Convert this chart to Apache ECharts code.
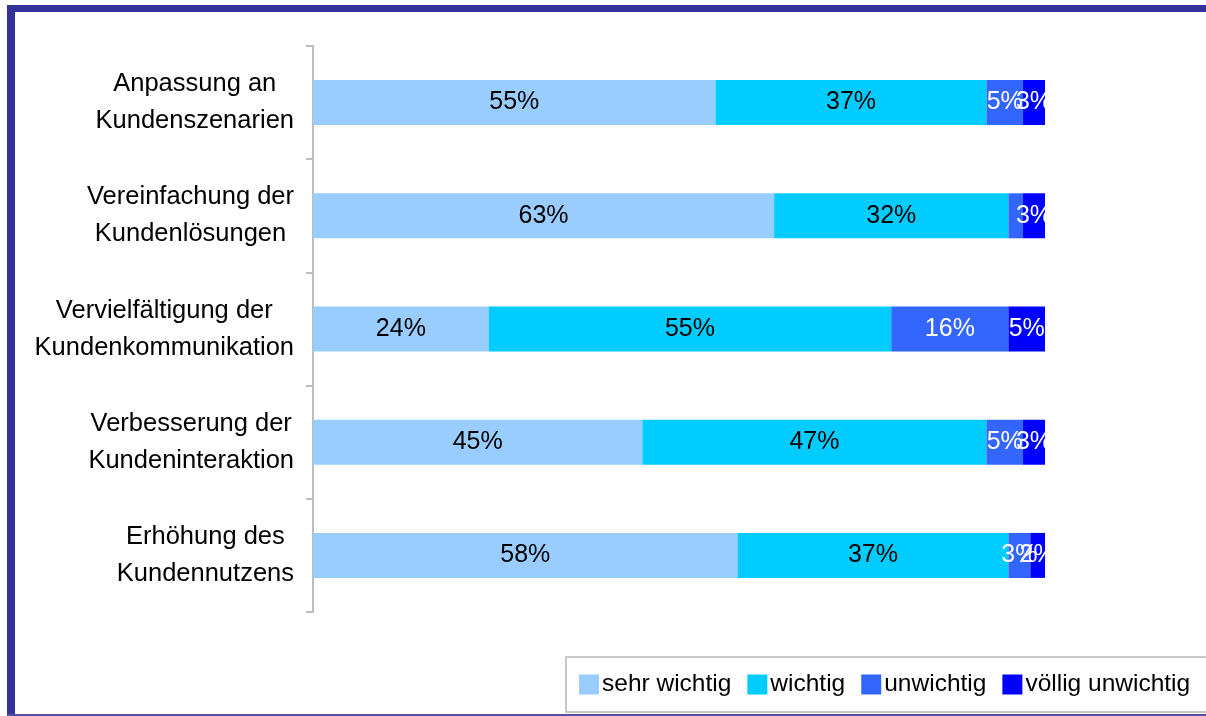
<!DOCTYPE html>
<html>
<head>
<meta charset="utf-8">
<title>Bedeutung der Kundenthemen</title>
<script src="https://cdn.jsdelivr.net/npm/echarts@6/dist/echarts.min.js"></script>
<style>
  html, body { margin: 0; padding: 0; background: #ffffff; }
  #chart { width: 1206px; height: 716px; }
</style>
</head>
<body>
<div id="chart"></div>
<script>
// Survey topics (top to bottom)
const categories = [
  'Anpassung an\nKundenszenarien',
  'Vereinfachung der\nKundenlösungen',
  'Vervielfältigung der\nKundenkommunikation',
  'Verbesserung der\nKundeninteraktion',
  'Erhöhung des\nKundennutzens'
];

// Share of answers per rating, in percent
const seriesNames = ['sehr wichtig', 'wichtig', 'unwichtig', 'völlig unwichtig'];
const sehrWichtig = [55, 63, 24, 45, 58];
const wichtig = [37, 32, 55, 47, 37];
const unwichtig = [5, 2, 16, 5, 3];
const voelligUnwichtig = [3, 3, 5, 3, 2];

const colors = ['#99CCFF', '#00CCFF', '#3366FF', '#0000FF'];
const labelColors = ['#000000', '#000000', '#ffffff', '#ffffff'];
const FONT = '"Liberation Sans", Arial, sans-serif';

// labels that are not printed in the chart (series index -> category index list)
const hiddenLabels = { 2: [1] };

const values = [sehrWichtig, wichtig, unwichtig, voelligUnwichtig];

const series = seriesNames.map((name, si) => ({
  name: name,
  type: 'bar',
  stack: 'total',
  barWidth: 45,
  itemStyle: { color: colors[si] },
  label: {
    show: true,
    position: 'inside',
    formatter: '{c}%',
    color: labelColors[si],
    fontFamily: FONT,
    fontSize: 25
  },
  emphasis: { disabled: true },
  data: values[si].map((v, ci) => {
    const hide = (hiddenLabels[si] || []).indexOf(ci) >= 0;
    return hide ? { value: v, label: { show: false } } : v;
  })
}));

const chart = echarts.init(document.getElementById('chart'), null, { renderer: 'canvas' });

chart.setOption({
  backgroundColor: '#ffffff',
  animation: false,
  grid: { left: 313, right: 161, top: 46, bottom: 104, containLabel: false },
  xAxis: {
    type: 'value',
    min: 0,
    max: 100,
    show: false
  },
  yAxis: {
    type: 'category',
    inverse: true,
    data: categories,
    axisLine: { show: true, lineStyle: { color: '#bdbdbd', width: 2 } },
    axisTick: { show: true, length: 7, alignWithLabel: false, lineStyle: { color: '#bdbdbd', width: 2 } },
    axisLabel: {
      margin: 19,
      align: 'right',
      fontFamily: FONT,
      fontSize: 25.5,
      color: '#000000',
      lineHeight: 37,
      formatter: (val) => val.split('\n').map(l => '{c|' + l + '}').join('\n'),
      rich: {
        c: { align: 'center', fontFamily: FONT, fontSize: 25.5, lineHeight: 37, color: '#000000' }
      }
    },
    splitLine: { show: false }
  },
  legend: {
    data: seriesNames,
    left: 566,
    top: 657,
    width: 640,
    orient: 'horizontal',
    icon: 'rect',
    itemWidth: 20,
    itemHeight: 20,
    itemGap: 16,
    padding: [15, 20, 15, 13],
    borderColor: '#c8c8c8',
    borderWidth: 2,
    backgroundColor: '#ffffff',
    selectedMode: false,
    textStyle: { fontFamily: FONT, fontSize: 24.5, color: '#000000', padding: [0, 0, 0, -2] }
  },
  graphic: [
    // labels stop at the plot edge
    { type: 'rect', z: 100, shape: { x: 1045, y: 40, width: 161, height: 580 }, style: { fill: '#ffffff' } },
    // outer frame
    { type: 'rect', z: 110, shape: { x: 7, y: 5, width: 1199, height: 7 }, style: { fill: '#333399' } },
    { type: 'rect', z: 110, shape: { x: 7, y: 5, width: 8, height: 711 }, style: { fill: '#333399' } },
    { type: 'rect', z: 110, shape: { x: 7, y: 714, width: 1199, height: 2 }, style: { fill: '#5050a4' } }
  ],
  series: series
});
</script>
</body>
</html>
